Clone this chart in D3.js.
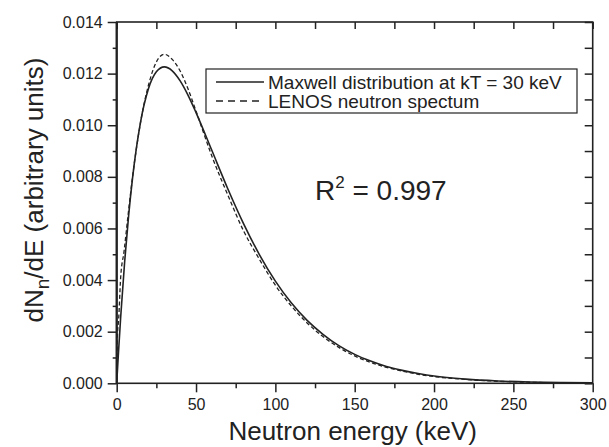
<!DOCTYPE html>
<html><head><meta charset="utf-8">
<script src="https://cdn.jsdelivr.net/npm/d3@7"></script>
<style>body{margin:0;background:#fff}svg{display:block}text{font-family:"Liberation Sans",Arial,sans-serif;fill:#222}</style>
</head><body><svg id="c" width="609" height="447"></svg>
<script>
// Data
const maxwellE = [0,1,2.5,5,7.5,10,15,20,25,30,35,40,45,50,60,70,80,90,100,110,120,130,140,150,160,170,180,190,200,220,240,260,280,300];
const maxwellY = [0,0.00107,0.00256,0.00470,0.00649,0.00796,0.01011,0.01141,0.01207,0.01226,0.01211,0.01172,0.01116,0.01049,0.00902,0.00754,0.00618,0.00498,0.00396,0.00312,0.00244,0.00190,0.00146,0.00112,0.00086,0.00065,0.00050,0.00038,0.00028,0.00016,0.00009,0.00005,0.000027,0.000015];
const lenosE = [0,0.5,1.2,2.5,4.6,7.5,10,15,20,25,30,35,40,45,50,60,70,80,90,100,110,120,130,140,150,160,170,180,190,200,220,240,260,280,300];
const lenosY = [0,0.0019,0.00245,0.0041,0.0051,0.0067,0.0080,0.0101,0.01155,0.01245,0.01275,0.01255,0.0121,0.0114,0.01055,0.0088,0.0073,0.0059,0.0048,0.0038,0.0030,0.00234,0.00181,0.00139,0.00106,0.00081,0.00062,0.00047,0.00035,0.00026,0.00015,0.00008,0.00004,0.00002,0.00001];
const xTicks = [0,50,100,150,200,250,300];
const yTicks = [0,0.002,0.004,0.006,0.008,0.010,0.012,0.014];
const legendLabels = ["Maxwell distribution at kT = 30 keV","LENOS neutron spectum"];
const r2Label = "0.997";

const svg = d3.select("#c");
const L=116.7,R=592.7,T=22,B=383.3;
const x = d3.scaleLinear().domain([0,300]).range([L,R]);
const y = d3.scaleLinear().domain([0,0.014]).range([B,T]);
const col="#222";

// curves
const line = d3.line().curve(d3.curveMonotoneX);
svg.append("path").attr("d", line(lenosE.map((e,i)=>[x(e),y(lenosY[i])])))
  .attr("fill","none").attr("stroke",col).attr("stroke-width",1.3).attr("stroke-dasharray","4,2.5");
svg.append("path").attr("d", line(maxwellE.map((e,i)=>[x(e),y(maxwellY[i])])))
  .attr("fill","none").attr("stroke",col).attr("stroke-width",1.6);

// axes
const fmt = d3.format(".3f");
svg.append("g").attr("transform",`translate(0,${B})`)
  .call(d3.axisBottom(x).tickValues(xTicks).tickSize(9).tickPadding(6).tickFormat(d3.format("d")));
svg.append("g").attr("transform",`translate(0,${B})`)
  .call(d3.axisBottom(x).tickValues(d3.range(25,300,50)).tickSize(5).tickFormat(""));
svg.append("g").attr("transform",`translate(${L},0)`)
  .call(d3.axisLeft(y).tickValues(yTicks).tickSize(9).tickPadding(5).tickFormat(fmt));
svg.append("g").attr("transform",`translate(${L},0)`)
  .call(d3.axisLeft(y).tickValues(d3.range(0.001,0.014,0.002)).tickSize(4).tickFormat(""));
svg.append("g").attr("transform",`translate(0,${T})`)
  .call(d3.axisBottom(x).tickValues(d3.range(0,301,25)).tickSize(7).tickFormat(""));
svg.append("g").attr("transform",`translate(${R},0)`)
  .call(d3.axisLeft(y).tickValues(d3.range(0,0.01401,0.001)).tickSize(8).tickFormat(""));
svg.selectAll(".domain").remove();
svg.selectAll(".tick line").attr("stroke",col).attr("stroke-width",1.5);
svg.selectAll(".tick text").style("font-size","16px").attr("fill",col);
svg.append("rect").attr("x",L).attr("y",T).attr("width",R-L).attr("height",B-T)
  .attr("fill","none").attr("stroke",col).attr("stroke-width",1.6);
svg.append("line").attr("x1",L).attr("x2",L).attr("y1",T).attr("y2",B).attr("stroke",col).attr("stroke-width",2.2);

// titles
svg.append("text").attr("x",(L+R)/2-2).attr("y",440).attr("text-anchor","middle")
  .style("font-size","26px").text("Neutron energy (keV)");
const yt = svg.append("text").attr("transform","translate(43,190) rotate(-90)").attr("text-anchor","middle").style("font-size","26px");
yt.append("tspan").text("dN");
yt.append("tspan").attr("dy",6).style("font-size","19px").text("n");
yt.append("tspan").attr("dy",-6).text("/dE (arbitrary units)");

// R^2
const rt = svg.append("text").attr("x",315).attr("y",200).style("font-size","28px");
rt.append("tspan").text("R");
rt.append("tspan").attr("dy",-12).style("font-size","17px").text("2");
rt.append("tspan").attr("dy",12).text(" = " + r2Label);

// legend
const lg = svg.append("g");
lg.append("rect").attr("x",206).attr("y",69).attr("width",371).attr("height",44)
  .attr("fill","#fff").attr("stroke",col).attr("stroke-width",1.2);
legendLabels.forEach((t,i)=>{
  const yy = 82 + i*19;
  lg.append("line").attr("x1",216).attr("x2",264).attr("y1",yy).attr("y2",yy)
    .attr("stroke",col).attr("stroke-width",1.4).attr("stroke-dasharray", i ? "7,5" : null);
  lg.append("text").attr("x",268).attr("y",yy).attr("dy","0.35em").style("font-size","19px").text(t);
});
</script></body></html>
